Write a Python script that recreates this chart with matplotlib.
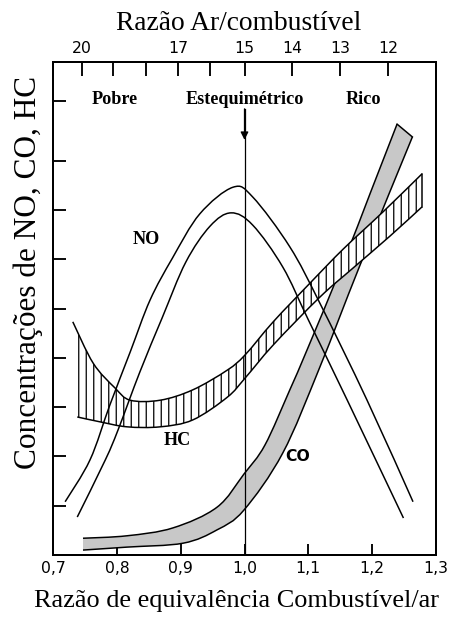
import numpy as np
import matplotlib.pyplot as plt
from matplotlib.path import Path
from matplotlib.patches import PathPatch

# equivalence ratio (phi) vs relative concentration, two edges per band
no_outer_phi = [0.719, 0.758, 0.789, 0.821, 0.852, 0.887, 0.930, 0.982,
                1.013, 1.071, 1.118, 1.192, 1.264]
no_outer_conc = [1.08, 1.93, 3.04, 4.12, 5.17, 6.02, 6.92, 7.46,
                 7.26, 6.25, 5.11, 3.14, 1.08]
no_inner_phi = [0.738, 0.782, 0.802, 0.836, 0.871, 0.908, 0.946, 0.979,
                1.013, 1.060, 1.100, 1.161, 1.249]
no_inner_conc = [0.77, 1.93, 2.54, 3.71, 4.81, 5.94, 6.67, 6.94,
                 6.69, 5.84, 4.77, 3.14, 0.75]

hc_upper_phi = [0.731, 0.763, 0.797, 0.821, 0.868, 0.919, 0.973, 1.001, 1.045, 1.103,
                1.155, 1.217, 1.278]
hc_upper_conc = [4.73, 3.89, 3.39, 3.14, 3.14, 3.35, 3.75, 4.06, 4.73, 5.52,
                 6.21, 6.96, 7.73]
hc_lower_phi = [0.738, 0.774, 0.816, 0.868, 0.919, 0.973, 1.001, 1.045, 1.118, 1.170,
                1.228, 1.278]
hc_lower_conc = [2.80, 2.70, 2.60, 2.60, 2.74, 3.20, 3.59, 4.26, 5.23, 5.82,
                 6.47, 7.06]

co_upper_phi = [0.747, 0.816, 0.888, 0.957, 0.999, 1.032, 1.071, 1.098, 1.155, 1.197, 1.239]
co_upper_conc = [0.34, 0.39, 0.55, 0.97, 1.64, 2.23, 3.35, 4.16, 5.94, 7.34, 8.74]
co_lower_phi = [0.747, 0.816, 0.904, 0.957, 0.999, 1.060, 1.118, 1.181, 1.263]
co_lower_conc = [0.10, 0.16, 0.24, 0.51, 0.91, 2.07, 3.81, 5.88, 8.48]

# air/fuel ratio scale on top
af_values = [20, 19, 18, 17, 16, 15, 14, 13, 12]
af_phi = [0.745, 0.794, 0.846, 0.896, 0.946, 1.0, 1.075, 1.150, 1.225]
af_labels = ['20', '', '', '17', '', '15', '14', '13', '12']

phi_ticks = [0.7, 0.8, 0.9, 1.0, 1.1, 1.2, 1.3]
phi_labels = ['0,7', '0,8', '0,9', '1,0', '1,1', '1,2', '1,3']
conc_ticks = [1, 2, 3, 4, 5, 6, 7, 8, 9.2]

plt.rcParams['hatch.linewidth'] = 1.0
plt.rcParams['hatch.color'] = 'black'


def through(xs, ys):
    # cubic path passing through every point (Catmull-Rom handles)
    p = np.column_stack([xs, ys]).astype(float)
    ext = np.vstack([p[0], p, p[-1]])
    verts = [p[0]]
    codes = [Path.MOVETO]
    for i in range(len(p) - 1):
        a, b, c, d = ext[i], ext[i + 1], ext[i + 2], ext[i + 3]
        verts += [b + (c - a) / 6, c - (d - b) / 6, c]
        codes += [Path.CURVE4] * 3
    return verts, codes


def band(xu, yu, xl, yl, **kw):
    vu, cu = through(xu, yu)
    vl, cl = through(xl[::-1], yl[::-1])
    cl[0] = Path.LINETO
    return PathPatch(Path(vu + vl + [vu[0]], cu + cl + [Path.CLOSEPOLY]), **kw)


def edge(ax, xs, ys, z):
    v, c = through(xs, ys)
    ax.add_patch(PathPatch(Path(v, c), fill=False, edgecolor='black', lw=1.2, zorder=z))


fig = plt.figure(figsize=(462 / 90, 617 / 90), dpi=90)
ax = fig.add_axes([53 / 462, 62 / 617, 383 / 462, 493 / 617])
ax.set_xlim(0.7, 1.3)
ax.set_ylim(0, 10)

# CO: grey band
ax.add_patch(band(co_upper_phi, co_upper_conc, co_lower_phi, co_lower_conc,
                  facecolor='#c8c8c8', edgecolor='none', zorder=2))
edge(ax, co_upper_phi, co_upper_conc, 3)
edge(ax, co_lower_phi, co_lower_conc, 3)
ax.plot([co_upper_phi[-1], co_lower_phi[-1]], [co_upper_conc[-1], co_lower_conc[-1]],
        color='black', lw=1.2, zorder=3)

# HC: hatched band
ax.add_patch(band(hc_upper_phi, hc_upper_conc, hc_lower_phi, hc_lower_conc,
                  facecolor='white', edgecolor='black', lw=0, hatch='||', zorder=4))
edge(ax, hc_upper_phi, hc_upper_conc, 5)
edge(ax, hc_lower_phi, hc_lower_conc, 5)
ax.plot([hc_upper_phi[-1], hc_lower_phi[-1]], [hc_upper_conc[-1], hc_lower_conc[-1]],
        color='black', lw=1.2, zorder=5)

# NO: open band
edge(ax, no_outer_phi, no_outer_conc, 6)
edge(ax, no_inner_phi, no_inner_conc, 6)

# stoichiometric line with arrow
ax.plot([1.0, 1.0], [0, 9.05], color='black', lw=1.0, zorder=7)
ax.annotate('', xy=(1.0, 8.42), xytext=(1.0, 9.05),
            arrowprops=dict(arrowstyle='-|>', color='black', lw=1.0,
                            mutation_scale=13, shrinkA=0, shrinkB=0), zorder=7)

bold = dict(family='Liberation Serif', fontweight='bold', fontsize=14.5,
            ha='center', va='center')
ax.text(0.797, 9.23, 'Pobre', **bold)
ax.text(1.0, 9.23, 'Estequimétrico', **bold)
ax.text(1.186, 9.23, 'Rico', **bold)
ax.text(0.846, 6.39, 'NO', **bold)
ax.text(0.894, 2.33, 'HC', **bold)
ax.text(1.084, 1.99, 'CO', family='DejaVu Sans', fontweight='bold', fontsize=12.5,
        ha='center', va='center')

# axes frame and ticks
for s in ax.spines.values():
    s.set_linewidth(1.6)
ax.set_xticks(phi_ticks)
ax.set_xticklabels(phi_labels, fontsize=12.5, family='DejaVu Sans')
ax.set_yticks(conc_ticks)
ax.set_yticklabels([])
ax.tick_params(direction='in', length=10, width=1.5, pad=5)
ax.tick_params(axis='x', length=9)

top = ax.secondary_xaxis('top')
top.set_xticks(af_phi)
top.set_xticklabels(af_labels, fontsize=12.5, family='DejaVu Sans')
top.tick_params(direction='in', length=11, width=1.5, pad=5)
top.spines['top'].set_linewidth(1.6)

fig.text(239 / 462, 1 - 23 / 617, 'Razão Ar/combustível', family='Liberation Serif',
         fontsize=22, ha='center', va='center')
fig.text(236 / 462, 1 - 601 / 617, 'Razão de equivalência Combustível/ar',
         family='Liberation Serif', fontsize=21, ha='center', va='center')
fig.text(28 / 462, 1 - 272 / 617, 'Concentrações de NO, CO, HC', family='Liberation Serif',
         fontsize=25, ha='center', va='center', rotation=90)

fig.savefig('out.png', dpi=90)
